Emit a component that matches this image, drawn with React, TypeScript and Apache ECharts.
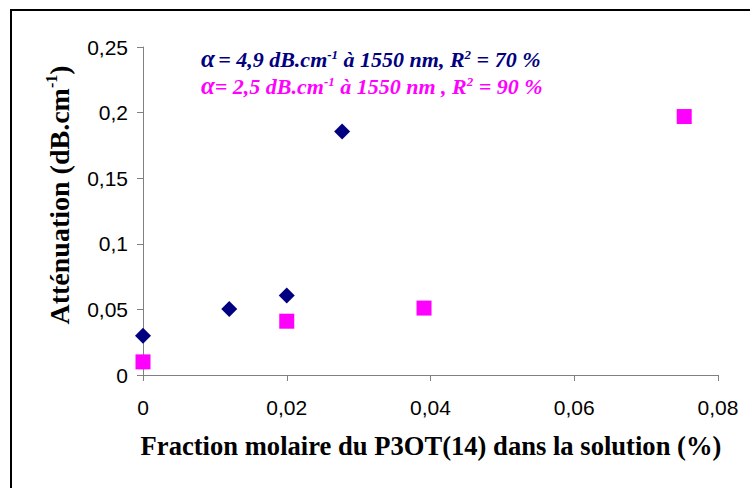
import React, { useEffect, useRef } from "react";
import * as echarts from "echarts";

// Data
const seriesNames = ["α = 4,9 dB.cm-1 à 1550 nm, R2 = 70 %", "α = 2,5 dB.cm-1 à 1550 nm , R2 = 90 %"];
const seriesAX = [0, 0.012, 0.02, 0.0277];
const seriesAY = [0.03, 0.0503, 0.0605, 0.1855];
const seriesBX = [0, 0.02, 0.0391, 0.0753];
const seriesBY = [0.01, 0.041, 0.051, 0.197];

const xTicks = { min: 0, max: 0.08, interval: 0.02 };
const yTicks = { min: 0, max: 0.25, interval: 0.05 };

const xTitle = "Fraction molaire du P3OT(14) dans la solution (%)";
const yTitleMain = "Atténuation (dB.cm";
const yTitleSup = "-1";
const yTitleEnd = ")";

const fmt = (v: number) => String(+v.toFixed(4)).replace(".", ",");

export default function App() {
  const ref = useRef<HTMLDivElement>(null);
  useEffect(() => {
    if (!ref.current) return;
    const chart = echarts.init(ref.current, null, { renderer: "svg" });
    const serif = "'Liberation Serif', 'Times New Roman', serif";
    const sans = "'Liberation Sans', Arial, sans-serif";
    const legendRich = (color: string) => ({
      a: { fontFamily: "Liberation Serif", fontStyle: "italic", fontWeight: "bold", fontSize: 25, fill: color, lineHeight: 23, verticalAlign: "bottom" },
      n: { fontFamily: "Liberation Serif", fontStyle: "italic", fontWeight: "bold", fontSize: 22, fill: color, lineHeight: 23, verticalAlign: "bottom" },
      s: { fontFamily: "Liberation Serif", fontStyle: "italic", fontWeight: "bold", fontSize: 13, fill: color, lineHeight: 23, verticalAlign: "top" },
    });
    chart.setOption({
      animation: false,
      backgroundColor: "#ffffff",
      grid: { left: 143, right: 32, top: 47, bottom: 113, containLabel: false },
      xAxis: {
        type: "value",
        min: xTicks.min,
        max: xTicks.max,
        interval: xTicks.interval,
        splitLine: { show: false },
        axisLine: { onZero: false, lineStyle: { color: "#808080", width: 1 } },
        axisTick: { show: true, inside: false, length: 6, lineStyle: { color: "#808080" } },
        axisLabel: { formatter: fmt, color: "#000", fontFamily: sans, fontSize: 21, margin: 22 },
      },
      yAxis: {
        type: "value",
        min: yTicks.min,
        max: yTicks.max,
        interval: yTicks.interval,
        splitLine: { show: false },
        axisLine: { show: true, onZero: false, lineStyle: { color: "#808080", width: 1 } },
        axisTick: { show: true, inside: false, length: 6, lineStyle: { color: "#808080" } },
        axisLabel: { formatter: fmt, color: "#000", fontFamily: sans, fontSize: 21, margin: 15 },
      },
      series: [
        {
          name: seriesNames[0],
          type: "scatter",
          symbol: "diamond",
          symbolSize: 16,
          itemStyle: { color: "#000080", opacity: 1 },
          data: seriesAX.map((x, i) => [x, seriesAY[i]]),
          z: 3,
        },
        {
          name: seriesNames[1],
          type: "scatter",
          symbol: "rect",
          symbolSize: 15,
          itemStyle: { color: "#FF00FF", opacity: 1 },
          data: seriesBX.map((x, i) => [x, seriesBY[i]]),
          z: 4,
        },
      ],
      graphic: [
        {
          type: "rect",
          shape: { x: 11, y: 10, width: 800, height: 600 },
          style: { fill: "none", stroke: "#000", lineWidth: 2 },
          silent: true,
        },
        {
          type: "text",
          x: 431,
          y: 446,
          scaleX: 0.95,
          style: {
            text: xTitle,
            x: 0,
            y: 0,
            align: "center",
            verticalAlign: "middle",
            font: `bold 28px ${serif}`,
            fill: "#000",
          },
        },
        {
          type: "text",
          x: 58,
          y: 195,
          rotation: Math.PI / 2,
          style: {
            text: `{m|${yTitleMain}}{s|${yTitleSup}}{m|${yTitleEnd}}`,
            x: 0,
            y: 0,
            align: "center",
            verticalAlign: "middle",
            fill: "#000",
            rich: {
              m: { font: `bold 28px ${serif}`, fill: "#000", lineHeight: 30, verticalAlign: "bottom" },
              s: { font: `bold 16px ${serif}`, fill: "#000", lineHeight: 30, verticalAlign: "top" },
            },
          },
        },
        {
          type: "text",
          x: 201,
          y: 59,
          style: {
            text: "{a|α} {n|= 4,9 dB.cm}{s|-1}{n| à 1550 nm, R}{s|2}{n| = 70 %}",
            x: 0,
            y: 0,
            align: "left",
            verticalAlign: "middle",
            rich: legendRich("#000080"),
          },
        },
        {
          type: "text",
          x: 201,
          y: 86,
          style: {
            text: "{a|α}{n|= 2,5 dB.cm}{s|-1}{n| à 1550 nm , R}{s|2}{n| = 90 %}",
            x: 0,
            y: 0,
            align: "left",
            verticalAlign: "middle",
            rich: legendRich("#FF00FF"),
          },
        },
      ],
    });
    return () => chart.dispose();
  }, []);
  return (
    <div
      ref={ref}
      style={{ position: "fixed", left: 0, top: 0, width: 750, height: 488, background: "#fff" }}
    />
  );
}
